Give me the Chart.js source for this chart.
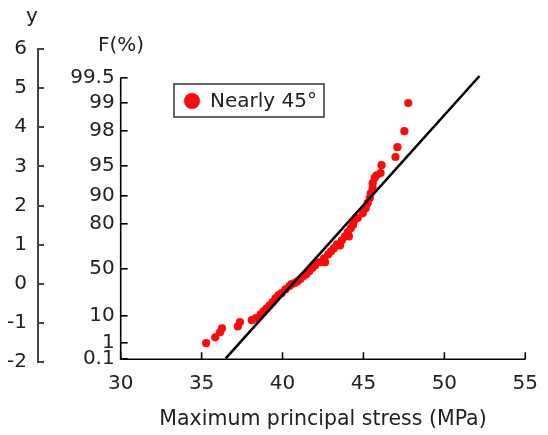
<!DOCTYPE html>
<html>
<head>
<meta charset="utf-8">
<script src="https://cdn.jsdelivr.net/npm/chart.js@4/dist/chart.umd.min.js"></script>
<style>
  html, body { margin: 0; padding: 0; background: #fff; }
  #wrap { width: 548px; height: 435px; }
</style>
</head>
<body>
<div id="wrap"><canvas id="c" width="548" height="435"></canvas></div>
<script>
// ---- data ----
const stressMPa = [35.28,35.84,36.14,36.26,37.24,37.37,38.10,38.35,38.65,38.84,39.02,39.20,39.39,39.57,39.75,39.94,40.18,40.43,40.55,40.73,40.92,41.10,41.28,41.47,41.65,41.84,42.02,42.20,42.39,42.57,42.63,42.82,43.00,43.18,43.37,43.55,43.67,43.86,44.04,44.10,44.22,44.35,44.41,44.53,44.65,44.96,45.14,45.26,45.39,45.45,45.57,45.57,45.69,45.81,46.06,46.12,46.98,47.10,47.53,47.77];
const yValues = [-1.52,-1.37,-1.24,-1.14,-1.09,-0.98,-0.93,-0.88,-0.78,-0.70,-0.63,-0.55,-0.47,-0.37,-0.29,-0.24,-0.14,-0.06,-0.01,0.01,0.06,0.12,0.19,0.24,0.32,0.40,0.47,0.55,0.55,0.65,0.55,0.75,0.83,0.91,1.01,0.98,1.11,1.21,1.32,1.21,1.42,1.50,1.60,1.68,1.68,1.80,1.93,2.06,2.19,2.31,2.44,2.57,2.70,2.77,2.83,3.03,3.24,3.49,3.90,4.62];
const fitLineX = [36.49, 52.17];
const fitLineY = [-1.91, 5.31];
const fLabels = ['0.1','1','10','50','80','90','95','98','99','99.5'];
const fTickValues = [-1.93,-1.51,-0.81,0.37,1.54,2.25,3.01,3.91,4.62,5.27];
const seriesLabel = 'Nearly 45°';
const xTitle = 'Maximum principal stress (MPa)';

const FONT = '"DejaVu Sans", Verdana, sans-serif';
const TXT = '#222';
const RED = '#ff0a0a';

const decor = {
  id: 'decor',
  afterDraw(chart) {
    const ctx = chart.ctx;
    const xs = chart.scales.x, ys = chart.scales.y;
    const axisY = ys.getPixelForValue(fTickValues[0]);
    const topF = ys.getPixelForValue(fTickValues[fTickValues.length - 1]);
    const left = xs.left;
    ctx.save();
    ctx.strokeStyle = '#000';
    ctx.lineWidth = 1.6;
    ctx.lineCap = 'butt';
    // F axis line
    ctx.beginPath();
    ctx.moveTo(left, topF);
    ctx.lineTo(left, axisY);
    ctx.stroke();
    // x axis line
    ctx.beginPath();
    ctx.moveTo(left - 0.8, axisY);
    ctx.lineTo(xs.right, axisY);
    ctx.stroke();
    // x ticks (inward)
    xs.ticks.forEach(t => {
      const px = xs.getPixelForValue(t.value);
      ctx.beginPath();
      ctx.moveTo(px, axisY);
      ctx.lineTo(px, axisY - 7);
      ctx.stroke();
    });
    // axis name labels
    ctx.fillStyle = TXT;
    ctx.font = '20px ' + FONT;
    ctx.textAlign = 'center';
    ctx.textBaseline = 'middle';
    ctx.fillText('y', 32, 17);
    ctx.fillText('F(%)', 121, 46);
    // legend
    const lx = 174, ly = 84, lw = 150, lh = 33;
    ctx.lineWidth = 1.5;
    ctx.strokeStyle = '#333';
    ctx.strokeRect(lx, ly, lw, lh);
    ctx.fillStyle = RED;
    ctx.beginPath();
    ctx.arc(lx + 18, ly + 17, 8, 0, Math.PI * 2);
    ctx.fill();
    ctx.fillStyle = TXT;
    ctx.textAlign = 'left';
    ctx.fillText(chart.data.datasets[1].label, lx + 36, ly + 17.5);
    ctx.restore();
  }
};

new Chart(document.getElementById('c'), {
  type: 'scatter',
  data: {
    datasets: [
      {
        type: 'line',
        label: 'fit',
        data: fitLineX.map((x, i) => ({ x, y: fitLineY[i] })),
        borderColor: '#000',
        borderWidth: 2.6,
        pointRadius: 0,
        fill: false,
        order: 0,
        yAxisID: 'y'
      },
      {
        label: seriesLabel,
        data: stressMPa.map((x, i) => ({ x, y: yValues[i] })),
        backgroundColor: RED,
        borderWidth: 0,
        pointRadius: 4.1,
        pointStyle: 'circle',
        order: 1,
        yAxisID: 'y'
      }
    ]
  },
  options: {
    responsive: false,
    animation: false,
    events: [],
    layout: { padding: { top: 49, right: 19, bottom: 0, left: 0 } },
    plugins: { legend: { display: false }, tooltip: { enabled: false }, title: { display: false } },
    scales: {
      x: {
        type: 'linear',
        position: 'bottom',
        min: 30, max: 55,
        ticks: { stepSize: 5, color: TXT, font: { family: FONT, size: 20 }, padding: 10, maxRotation: 0 },
        grid: { display: false, drawTicks: false },
        border: { display: false },
        title: { display: true, text: xTitle, color: TXT, font: { family: FONT, size: 20.5 }, padding: { top: 0, bottom: 3 } },
        afterFit(s) { s.height = 73; }
      },
      y: {
        type: 'linear',
        position: 'left',
        weight: 1,
        min: -2, max: 6,
        ticks: { stepSize: 1, color: TXT, font: { family: FONT, size: 20 }, padding: 17 },
        grid: { drawOnChartArea: false, drawTicks: true, tickLength: -6, color: '#444', lineWidth: 2 },
        border: { display: true, color: '#444', width: 2 },
        afterFit(s) { s.width = 38; }
      },
      yF: {
        type: 'linear',
        position: 'left',
        weight: 0,
        min: -2, max: 6,
        afterBuildTicks(s) { s.ticks = fTickValues.map(v => ({ value: v })); },
        ticks: {
          autoSkip: false,
          color: TXT, font: { family: FONT, size: 20 }, padding: 13,
          callback: (v, i) => fLabels[i]
        },
        grid: { drawOnChartArea: false, drawTicks: true, tickLength: -7, color: '#000', lineWidth: 1.6 },
        border: { display: false },
        afterFit(s) { s.width = 82.7; }
      }
    }
  },
  plugins: [decor]
});
</script>
</body>
</html>
